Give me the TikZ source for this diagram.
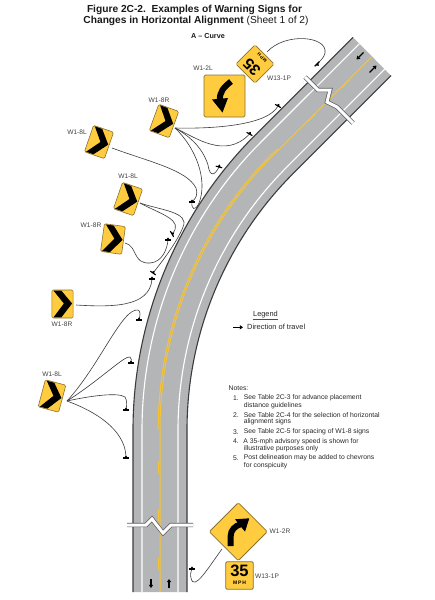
\documentclass[tikz,border=0pt]{standalone}
\usepackage{fontspec}
\setmainfont{Liberation Sans}
\usetikzlibrary{arrows.meta}
\definecolor{roadgray}{HTML}{B4B5B7}
\definecolor{signyellow}{HTML}{FFCB3F}
\definecolor{signedge}{HTML}{8A7233}
\definecolor{lineyellow}{HTML}{F6C433}
\definecolor{edgedark}{HTML}{3C3C3C}
\definecolor{leadergray}{HTML}{3A3A3A}
% centre-line curve of the road, offset #1 to the left
\newcommand\roadarc[1]{({160-(#1)},430) .. controls ({550-(390+#1)},{430-.2652*(390+#1)}) and ({550-.8946*(390+#1)},{430-.5196*(390+#1)}) .. ({550-.7071*(390+#1)},{430-.7071*(390+#1)})}
\newcommand\roadpath[1]{({160-(#1)},592) -- \roadarc{#1} -- ({372-.7071*(#1)},{56.5-.7071*(#1)})}
\tikzset{
  x=1pt,y=-1pt,
  lbl/.style={font=\fontsize{6.6}{7}\selectfont,text=black!75,inner sep=0pt},
  note/.style={font=\fontsize{6.8}{7}\selectfont,text=black!85,inner sep=0pt,anchor=west},
  leader/.style={draw=leadergray,line width=.6},
  edgeline/.style={draw=edgedark,line width=1.1},
  whiteline/.style={draw=white,line width=1.1},
  yel/.style={draw=lineyellow,line width=1},
  travel/.style={black,line width=1.2,-{Triangle[length=3.2,width=4.2]}},
  breakouter/.style={draw=black!65,line width=4.4,miter limit=10},
  breakinner/.style={draw=white,line width=3,miter limit=10},
  signbody/.style={fill=signyellow,draw=signedge,line width=.6,rounded corners=1.4},
  chevronsign/.pic={
    \path[signbody] (-10.6,-14) rectangle (10.6,14);
    \fill[black] (-9,-13.4)--(-1.2,-13.4)--(9.6,-.5)--(-1.2,13.4)--(-9,13.4)--(1.4,-.5)--cycle;
  },
  postmark/.pic={
    \fill[black] (-3.3,-.55) rectangle (3.3,.55);
    \fill[black] (-1.8,0)--(0,-2.6)--(1.8,0)--cycle;
  },
}
\begin{document}
\begin{tikzpicture}
\useasboundingbox (0,0) rectangle (434,600);
% road
\draw[draw=roadgray,line width=54] \roadpath{0};
\draw[edgeline] \roadpath{27};
\draw[edgeline] \roadpath{-27};
\draw[whiteline] \roadpath{18};
\draw[whiteline] \roadpath{-18};
\draw[yel] \roadpath{0};
\draw[yel] ({160-1.8},423) -- \roadarc{1.8} -- (278,148.6);
\draw[yel] (158,461) -- (158,473);
\draw[yel] (158,509) -- (158,522);
\draw[yel] (158,558) -- (158,570);
\draw[yel] (307.5,122) -- (315.5,114);
\draw[yel] (341.5,88) -- (349.5,80);
% breaks
\draw[breakouter] (127,525)--(146,525)--(152,519)--(163,533)--(171,525)--(193,525);
\draw[breakinner] (127,525)--(146,525)--(152,519)--(163,533)--(171,525)--(193,525);
\draw[breakouter] (305,77)--(318,90)--(330,90)--(327,102)--(337,107)--(353,123);
\draw[breakinner] (305,77)--(318,90)--(330,90)--(327,102)--(337,107)--(353,123);
% travel arrows
\coordinate (ta1) at (151,579); \coordinate (tb1) at (151,588);
\coordinate (ta2) at (169,588); \coordinate (tb2) at (169,579);
\coordinate (ta3) at (363.5,52.5); \coordinate (tb3) at (356.5,59.5);
\coordinate (ta4) at (369.5,72.5); \coordinate (tb4) at (376.5,65.5);
\draw[travel] (ta1)--(tb1);
\draw[travel] (ta2)--(tb2);
\draw[travel] (ta3)--(tb3);
\draw[travel] (ta4)--(tb4);
% title
\node[inner sep=0pt,font=\fontsize{10.2}{12}\selectfont\bfseries,text=black!90] (title1) at (194.5,9.5) {Figure 2C-2.\ \ Examples of Warning Signs for};
\node[inner sep=0pt,font=\fontsize{10.2}{12}\selectfont,text=black!90] (title2) at (196,21) {\textbf{Changes in Horizontal Alignment} (Sheet 1 of 2)};
\node[inner sep=0pt,font=\fontsize{7.2}{8}\selectfont\bfseries,text=black!90] (title3) at (208,36) {A – Curve};
% leader anchors
\coordinate (tA) at (175,128);
\coordinate (tB) at (112,148);
\coordinate (tC) at (140,203);
\coordinate (tD) at (125,243);
\coordinate (tE) at (76,305);
\coordinate (tF) at (67,401);
\coordinate (tG) at (267,52);
\coordinate (tH) at (222,549);
\coordinate (m1) at (278,106);
\coordinate (m2) at (249.5,134);
\coordinate (m3) at (219,167);
\coordinate (m4) at (192,202);
\coordinate (m5) at (172,234);
\coordinate (m6) at (168,240);
\coordinate (m7) at (153,273);
\coordinate (m8) at (152,279);
\coordinate (m9) at (139,320);
\coordinate (m10) at (131,363);
\coordinate (m11) at (126,410);
\coordinate (m12) at (126,458);
\coordinate (m13) at (317,64);
\coordinate (m14) at (192,569);
% leaders
\draw[leader] (tA) .. controls (215,129) and (268,125) .. (m1);
\draw[leader] (tA) .. controls (195,137) and (225,160) .. (m2);
\draw[leader] (tA) .. controls (197,140) and (205,155) .. (208,165) .. controls (210,178) and (215,175) .. (m3);
\draw[leader] (tA) .. controls (196,148) and (208,180) .. (199,203) .. controls (195,212) and (191,209) .. (m4);
\draw[leader] (tB) .. controls (150,162) and (187,170) .. (196,188) .. controls (198,195) and (196,198) .. (m4);
\draw[leader] (tC) .. controls (160,210) and (190,212) .. (183,227) .. controls (178,240) and (165,258) .. (m7);
\draw[leader] (tC) .. controls (160,214) and (185,220) .. (m5);
\draw[leader] (tD) .. controls (138,246) and (132,264) .. (150,263) .. controls (162,262) and (167,250) .. (m6);
\draw[leader] (tE) .. controls (110,307) and (150,308) .. (m8);
\draw[leader] (tF) .. controls (100,365) and (122,308) .. (138,310) .. controls (141,311) and (140,316) .. (m9);
\draw[leader] (tF) .. controls (100,380) and (125,355) .. (130,357) .. controls (132,358) and (131,360) .. (m10);
\draw[leader] (tF) .. controls (90,396) and (118,392) .. (125,397) .. controls (127,400) and (127,405) .. (m11);
\draw[leader] (tF) .. controls (105,415) and (126,435) .. (m12);
\draw[leader] (tG) .. controls (285,32) and (328,36) .. (325,53) .. controls (324,58) and (320,61) .. (m13);
\draw[leader] (tH) .. controls (208,568) and (194,592) .. (191,578) .. controls (190,575) and (191,571) .. (m14);
% post marks
\pic[rotate=-30] (p1) at (m1) {postmark};
\pic[rotate=-30] (p2) at (m2) {postmark};
\pic[rotate=-15] (p3) at (m3) {postmark};
\pic (p4) at (m4) {postmark};
\pic[rotate=-60] (p5) at (m5) {postmark};
\pic (p6) at (m6) {postmark};
\pic[rotate=-35] (p7) at (m7) {postmark};
\pic (p8) at (m8) {postmark};
\pic (p9) at (m9) {postmark};
\pic (p10) at (m10) {postmark};
\pic (p11) at (m11) {postmark};
\pic (p12) at (m12) {postmark};
\pic[rotate=-135] (p13) at (m13) {postmark};
\pic (p14) at (m14) {postmark};
% chevron signs
\pic[rotate=-20] (s1) at (164,121) {chevronsign};
\pic[rotate=-19] (s2) at (99,142) {chevronsign};
\pic[rotate=-19] (s3) at (128,199) {chevronsign};
\pic[rotate=-8] (s4) at (113,239) {chevronsign};
\pic (s5) at (62.5,304) {chevronsign};
\pic[rotate=-15] (s6) at (52,396) {chevronsign};
\node[lbl] (l1) at (159,100.5) {W1-8R};
\node[lbl] (l2) at (77,132) {W1-8L};
\node[lbl] (l3) at (128,176.5) {W1-8L};
\node[lbl] (l4) at (91,225.5) {W1-8R};
\node[lbl] (l5) at (62,324) {W1-8R};
\node[lbl] (l6) at (52,374.5) {W1-8L};
% W1-2L
\path[signbody,line width=.8] (204,75) rectangle (245,117);
\draw[black,line width=6] (231,81.5) .. controls (224,87) and (219,92) .. (220,101);
\fill[black] (212,99.5)--(228,98)--(222.5,112.5)--cycle;
\node[lbl] (l7) at (203,68) {W1-2L};
% W13-1P rotated
\begin{scope}[shift={(255,64)},rotate=135]
\path[signbody] (-13.5,-13.5) rectangle (13.5,13.5);
\end{scope}
\node[rotate=135,inner sep=0pt,font=\fontsize{15.5}{16}\selectfont\bfseries] (n35a) at (251.8,67.2) {35};
\node[rotate=135,inner sep=0pt,font=\fontsize{4.6}{5}\selectfont\bfseries] (nMb) at (262.2,57.8) {M\,P\,H};
\node[lbl] (l8) at (279,78) {W13-1P};
% W1-2R
\path[signbody,line width=.8,rounded corners=1.4] (238.3,502.7)--(267.3,531.7)--(238.3,560.7)--(209.3,531.7)--cycle;
\draw[black,line width=6] (230.7,546) -- (230.7,536) .. controls (230.7,530) and (235,526) .. (241,524);
\fill[black] (235,519.3)--(249.3,518.3)--(245,531.7)--cycle;
\node[lbl] (l9) at (280,531) {W1-2R};
% W13-1P lower
\path[signbody,line width=.8] (225.7,561.7) rectangle (253.3,589.3);
\node[inner sep=0pt,font=\fontsize{16.5}{17}\selectfont\bfseries] (n35b) at (239.5,571) {35};
\node[inner sep=0pt,font=\fontsize{5}{6}\selectfont\bfseries] (nMc) at (239.5,583) {M\,P\,H};
\node[lbl] (l10) at (267,576) {W13-1P};
% legend
\node[note,anchor=center,font=\fontsize{7.4}{8}\selectfont] (leg) at (265.5,314.5) {Legend};
\coordinate (lega) at (253,319.2); \coordinate (legb) at (278,319.2);
\draw[black!70,line width=.5] (lega)--(legb);
\coordinate (legc) at (233,327.3); \coordinate (legd) at (243,327.3);
\draw[travel] (legc)--(legd);
\node[note,font=\fontsize{7.45}{8}\selectfont] (legt) at (247,327.3) {Direction of travel};
% notes
\node[note] (nn) at (228.5,388) {Notes:};
\node[note,anchor=east] (n1) at (239,398) {1.};
\node[note] (n1a) at (243.7,398) {See Table 2C-3 for advance placement};
\node[note] (n1b) at (243.7,405.3) {distance guidelines};
\node[note,anchor=east] (n2) at (239,414.8) {2.};
\node[note] (n2a) at (243.7,414.8) {See Table 2C-4 for the selection of horizontal};
\node[note] (n2b) at (243.7,422) {alignment signs};
\node[note,anchor=east] (n3) at (239,431.8) {3.};
\node[note] (n3a) at (243.7,431.8) {See Table 2C-5 for spacing of W1-8 signs};
\node[note,anchor=east] (n4) at (239,441.3) {4.};
\node[note] (n4a) at (243.2,441.3) {A 35-mph advisory speed is shown for};
\node[note] (n4b) at (243.7,448.6) {illustrative purposes only};
\node[note,anchor=east] (n5) at (239,458) {5.};
\node[note] (n5a) at (243.7,458) {Post delineation may be added to chevrons};
\node[note] (n5b) at (243.7,465.3) {for conspicuity};
\end{tikzpicture}
\end{document}
